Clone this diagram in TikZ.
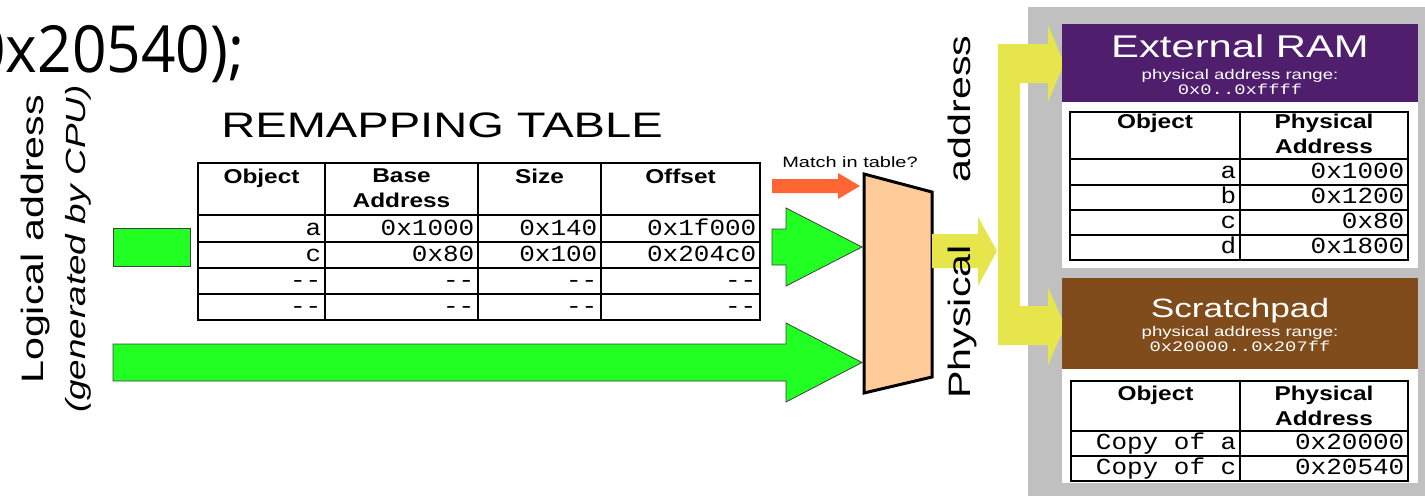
\documentclass[tikz,border=0pt]{standalone}
\usepackage{fontspec}
\setmainfont{Liberation Sans}
\newfontfamily\widesf[FakeStretch=1.33]{Liberation Sans}
\newfontfamily\hdrsf[FakeStretch=1.22]{Liberation Sans}
\newfontfamily\cellmono[FakeStretch=1.13]{Liberation Mono}
\newfontfamily\spanmono[FakeStretch=1.3]{Liberation Mono}
\newfontfamily\codesf[FakeStretch=0.93]{Open Sans}
\usepackage{tikz}

\definecolor{argreen}{RGB}{34,255,34}
\definecolor{matchred}{RGB}{255,102,51}
\definecolor{muxpeach}{RGB}{255,204,153}
\definecolor{physyellow}{RGB}{230,230,76}
\definecolor{panelgray}{RGB}{192,192,192}
\definecolor{rampurple}{RGB}{79,31,110}
\definecolor{spadbrown}{RGB}{128,76,28}

\newcommand{\nodata}{-{}-~}

\begin{document}
\begin{tikzpicture}[
x=1pt,y=-1pt,
tabline/.style={line width=2.4pt},
hdr/.style={font=\hdrsf\bfseries\fontsize{20}{25}\selectfont,align=center,anchor=north,inner sep=0pt},
cell/.style={font=\cellmono\fontsize{23}{23}\selectfont,anchor=base east,inner sep=0pt},
bigtext/.style={font=\widesf\fontsize{#1}{#1}\selectfont,anchor=base,inner sep=0pt},
sideways/.style={rotate=90,anchor=base west,inner sep=0pt},
fatgreen/.style={fill=argreen,draw=black!75,line width=0.8pt},
memhead/.style={text=white},
span/.style={font=\spanmono\fontsize{14.5}{14.5}\selectfont,anchor=base,inner sep=0pt,text=white}
]
\useasboundingbox (0,0) rectangle (1425,496);
\clip (0,0) rectangle (1425,496);

% source line running off the left edge
\node[font=\codesf\fontsize{65}{65}\selectfont,anchor=base west,inner sep=0pt] (code) at (-29,72) {0x20540);};

% logical address side labels
\node[sideways,font=\widesf\fontsize{31}{31}\selectfont] (logical) at (43,384) {Logical address};
\node[sideways,font=\widesf\itshape\fontsize{27.7}{27.7}\selectfont] (cpu) at (85,413) {(generated by CPU)};

% remapping table
\node[bigtext=35.4] (remaptitle) at (442,137) {REMAPPING TABLE};
\draw[tabline] (198,163) rectangle (760,320);
\foreach \x in {325,478,601} \draw[tabline] (\x,163) -- (\x,320);
\foreach \y in {215,242,268,294} \draw[tabline] (198,\y) -- (760,\y);
\foreach \cx/\txt [count=\i] in {261.5/Object,401.5/{Base\\Address},539.5/Size,680.5/Offset}
  \node[hdr] (remap-h\i) at (\cx,168.5) {\txt};
\foreach \y/\a/\b/\c/\d [count=\r] in {235/a/0x1000/0x140/0x1f000,261/c/0x80/0x100/0x204c0,
    287/\nodata/\nodata/\nodata/\nodata,313/\nodata/\nodata/\nodata/\nodata}{
  \node[cell] (remap-\r-1) at (321.5,\y) {\a};
  \node[cell] (remap-\r-2) at (474.5,\y) {\b};
  \node[cell] (remap-\r-3) at (597.5,\y) {\c};
  \node[cell] (remap-\r-4) at (756.5,\y) {\d};
}

% mux corners
\coordinate (mux-nw) at (864,174);
\coordinate (mux-ne) at (932,192);
\coordinate (mux-se) at (932,377);
\coordinate (mux-sw) at (864,393);

% address bits into the mux
\draw[fatgreen] (113,228) rectangle (190,266);
\draw[fatgreen] (772,229) -- (786,229) -- (786,208) -- (862,247) -- (786,286) -- (786,265) -- (772,265) -- cycle;
\draw[fatgreen] (113,344) -- (786,344) -- (786,323) -- (862,362.5) -- (786,402) -- (786,381) -- (113,381) -- cycle;

% match signal
\fill[matchred] (772,179) -- (838,179) -- (838,173) -- (860,186) -- (838,199) -- (838,193) -- (772,193) -- cycle;
\node[bigtext=15] (match) at (850,167) {Match in table?};

\draw[fill=muxpeach,line width=3pt,line join=miter] (mux-nw) -- (mux-ne) -- (mux-se) -- (mux-sw) -- cycle;

% physical address out
\fill[physyellow] (932,234) -- (978,234) -- (978,217) -- (997,251) -- (978,286) -- (978,268) -- (932,268) -- cycle;

% memory panel
\fill[panelgray] (1028,7) rectangle (1425,496);
\fill[physyellow] (998,44) -- (1048,44) -- (1048,25) -- (1064,63.5) -- (1048,102) -- (1048,83) -- (1020,83)
  -- (1020,306) -- (1048,306) -- (1048,287) -- (1065,326) -- (1048,365) -- (1048,345) -- (998,345) -- cycle;
\node[sideways,font=\widesf\fontsize{31}{31}\selectfont] (phys) at (970,399) {Physical\hspace{63pt}address};

% external RAM
\fill[rampurple] (1062,24) rectangle (1418,102);
\fill[white] (1062,102) rectangle (1418,268);
\node[memhead,bigtext=31.4] (ramtitle) at (1240,57) {External RAM};
\node[memhead,bigtext=14] (ramrange) at (1240,79.5) {physical address range:};
\node[span] (ramspan) at (1240,94) {0x0..0xffff};
\draw[tabline] (1070,112) rectangle (1408,260);
\draw[tabline] (1240,112) -- (1240,260);
\foreach \y in {159,185,210,235} \draw[tabline] (1070,\y) -- (1408,\y);
\node[hdr] (ram-h1) at (1155,113.5) {Object};
\node[hdr] (ram-h2) at (1324,113.5) {Physical\\Address};
\foreach \y/\obj/\addr [count=\r] in {178/a/0x1000,203/b/0x1200,228/c/0x80,253/d/0x1800}{
  \node[cell] (ram-\r-1) at (1236.5,\y) {\obj};
  \node[cell] (ram-\r-2) at (1404.5,\y) {\addr};
}

% scratchpad
\fill[spadbrown] (1062,278) rectangle (1418,369);
\fill[white] (1062,369) rectangle (1418,483);
\node[memhead,bigtext=26.5] (spadtitle) at (1240,317) {Scratchpad};
\node[memhead,bigtext=14] (spadrange) at (1240,336) {physical address range:};
\node[span] (spadspan) at (1240,351) {0x20000..0x207ff};
\draw[tabline] (1071,381) rectangle (1408,481);
\draw[tabline] (1240,381) -- (1240,481);
\foreach \y in {431,456} \draw[tabline] (1071,\y) -- (1408,\y);
\node[hdr] (spad-h1) at (1155.5,385.5) {Object};
\node[hdr] (spad-h2) at (1324,385.5) {Physical\\Address};
\foreach \y/\obj/\addr [count=\r] in {449/Copy of a/0x20000,474/Copy of c/0x20540}{
  \node[cell] (spad-\r-1) at (1236.5,\y) {\obj};
  \node[cell] (spad-\r-2) at (1404.5,\y) {\addr};
}
\end{tikzpicture}
\end{document}
